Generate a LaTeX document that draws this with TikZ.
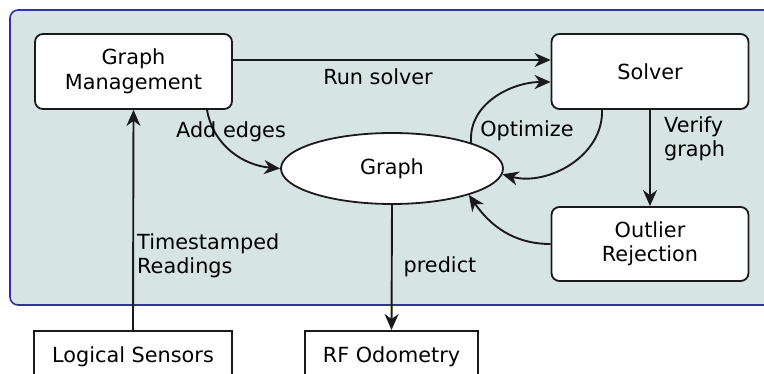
\documentclass[tikz,border=0pt]{standalone}
\usepackage{fontspec}
\setmainfont{DejaVu Sans}
\usetikzlibrary{arrows.meta,shapes.geometric}
\definecolor{panel}{HTML}{D7E4E4}
\definecolor{panelborder}{HTML}{3030A8}
\definecolor{ink}{HTML}{1A1A1A}
\tikzset{
  rbox/.style={draw=ink,line width=1.8pt,fill=white,rounded corners=8pt,minimum width=197pt,minimum height=75pt,align=center,inner sep=0pt},
  sbox/.style={draw=ink,line width=1.8pt,fill=white,minimum height=52pt,inner sep=0pt,align=center},
  ell/.style={draw=ink,line width=1.8pt,fill=white,ellipse,minimum width=222pt,minimum height=71pt,inner sep=0pt},
  arr/.style={draw=ink,line width=1.9pt,-{Stealth[length=16pt,width=14pt,inset=5pt]}},
  lbl/.style={inner sep=0pt,align=left}
}
\begin{document}
\begin{tikzpicture}[x=1pt,y=-1pt,every node/.style={font=\fontsize{20.8}{24.5}\selectfont}]
\clip (0,0) rectangle (764,374);
\fill[white] (0,0) rectangle (764,374);
\draw[panelborder,fill=panel,line width=1.6pt,rounded corners=8pt] (10,10) rectangle (790,305);

\node[rbox] (gm) at (133.5,71.5) {Graph\\Management};
\node[rbox] (solver) at (650,71.5) {Solver};
\node[rbox,minimum height=74pt] (outlier) at (650,244) {Outlier\\Rejection};
\node[ell] (graph) at (392,168.5) {Graph};
\node[sbox,minimum width=198pt,anchor=north] (ls) at (133,330) {Logical Sensors};
\node[sbox,minimum width=173pt,anchor=north] (rf) at (391.5,330) {RF Odometry};

\draw[arr] ([yshift=11.5pt]gm.east) -- ([yshift=11.5pt]solver.west);
\node[lbl] (runlbl) at (378,77) {Run solver};

\draw[arr] ([xshift=73.5pt]gm.south) to[out=-80,in=175] (graph.west);
\node[lbl] (addlbl) at (231,132) {Add edges};

\draw[arr] (graph.18) to[out=95,in=180] ([yshift=-10.5pt]solver.west);
\node[lbl] (optlbl) at (527,131) {Optimize};

\draw[arr] ([xshift=-48pt]solver.south) to[out=-88,in=-15] (graph.-3);

\draw[arr] (solver.south) -- (outlier.north);
\node[lbl,anchor=west] (verlbl) at (664,139) {Verify\\graph};

\draw[arr] (outlier.west) to[out=180,in=-55] (graph.-19);

\draw[arr] (graph.south) -- (rf.north);
\node[lbl] (predlbl) at (440,267) {predict};

\draw[arr] (ls.north) -- (gm.south);
\node[lbl,anchor=west] (tslbl) at (137,256) {Timestamped\\Readings};
\end{tikzpicture}
\end{document}
